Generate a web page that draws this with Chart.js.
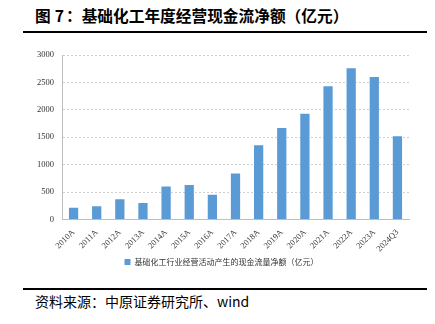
<!DOCTYPE html>
<html>
<head>
<meta charset="utf-8">
<script src="https://cdn.jsdelivr.net/npm/chart.js@4.4.1/dist/chart.umd.min.js"></script>
<style>
  body { margin: 0; background: #fff; width: 435px; height: 324px; position: relative; overflow: hidden; }
  .title { position: absolute; left: 35px; top: 4px; font: bold 15.7px "Noto Sans CJK SC"; color: #000; white-space: nowrap; }
  .title .no { margin: 0 2px 0 4px; }
  .rule { position: absolute; left: 23px; width: 404px; height: 2px; background: #000; }
  .source { position: absolute; left: 35px; top: 291px; font: 14px "Noto Sans CJK SC"; color: #000; white-space: nowrap; }
  #box { position: absolute; left: 20px; top: 42px; width: 407px; height: 234px; }
</style>
</head>
<body>
<div class="title">图<span class="no">7</span>：基础化工年度经营现金流净额（亿元）</div>
<div class="rule" style="top:31px"></div>
<div id="box"><canvas id="myChart"></canvas></div>
<div class="rule" style="top:288px"></div>
<div class="source">资料来源：中原证券研究所、wind</div>
<script>
// 年份与经营现金流净额（亿元）
const years = ['2010A', '2011A', '2012A', '2013A', '2014A', '2015A', '2016A', '2017A',
  '2018A', '2019A', '2020A', '2021A', '2022A', '2023A', '2024Q3'];
const cashFlow = [215, 240, 370, 300, 600, 630, 450, 840, 1353, 1670, 1930, 2430, 2760, 2600, 1520];
const seriesName = '基础化工行业经营活动产生的现金流量净额（亿元）';

const ctx = document.getElementById('myChart').getContext('2d');
const chart = new Chart(ctx, {
  type: 'bar',
  data: {
    labels: years,
    datasets: [{
      label: seriesName,
      data: cashFlow,
      backgroundColor: '#5b9bd5',
      barPercentage: 0.4,
      categoryPercentage: 1
    }]
  },
  options: {
    responsive: true,
    maintainAspectRatio: false,
    animation: false,
    layout: { padding: { top: 6, right: 18, left: 14 } },
    plugins: {
      legend: {
        position: 'bottom',
        labels: {
          boxWidth: 6, boxHeight: 6, color: '#333', padding: 4,
          font: { family: 'Noto Sans CJK SC', size: 8 }
        }
      },
      tooltip: { enabled: false }
    },
    scales: {
      x: {
        grid: { display: false },
        border: { color: '#bfbfbf' },
        ticks: {
          maxRotation: 45, minRotation: 45, color: '#333', padding: 0,
          font: { family: 'Liberation Serif', size: 8.5 }
        }
      },
      y: {
        min: 0, max: 3000,
        ticks: {
          stepSize: 500, color: '#333', padding: 8,
          font: { family: 'Liberation Serif', size: 8.5 },
          callback: function(v) { return String(v); }
        },
        border: { color: '#bfbfbf', display: true, dash: [2, 2] },
        grid: { color: '#d0d0d0', drawTicks: false },
        afterFit: function(scale) { scale.width = 28; }
      }
    }
  }
});
</script>
</body>
</html>
